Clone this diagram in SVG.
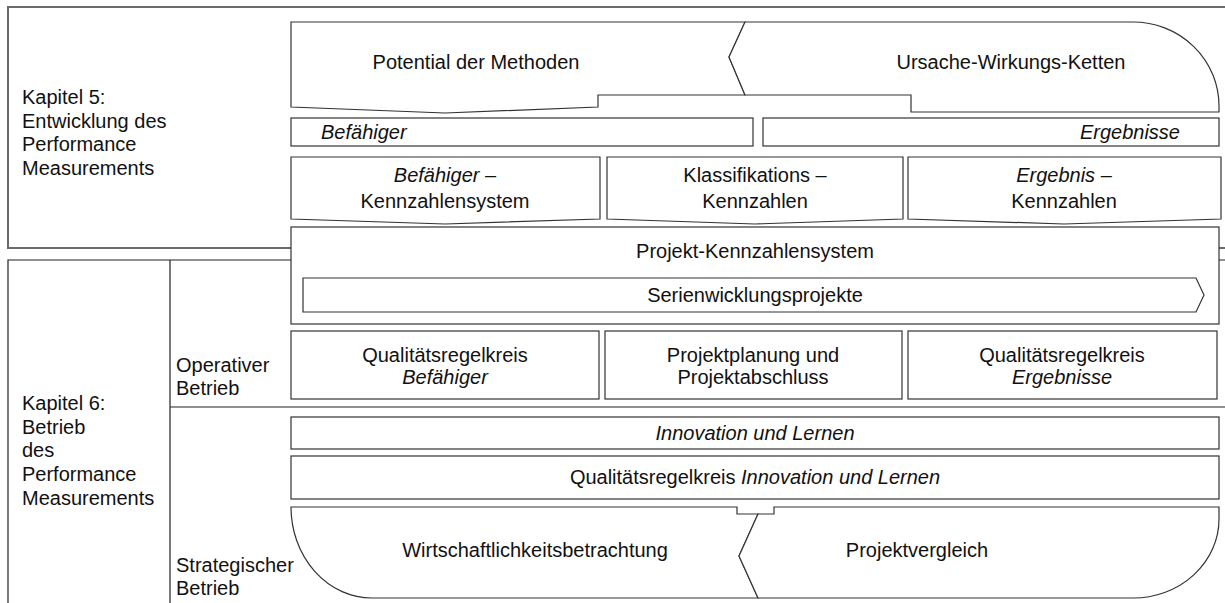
<svg xmlns="http://www.w3.org/2000/svg" width="1225" height="603" viewBox="0 0 1225 603">
  <style>
    text { font-family: "Liberation Sans", Arial, Helvetica, sans-serif; font-size: 20px; fill: #111; }
    .c { text-anchor: middle; }
    .i { font-style: italic; }
    .frame { fill: none; stroke: #6a6a6a; stroke-width: 2; }
    .line { fill: none; stroke: #222; stroke-width: 1.2; }
    .box { fill: #fff; stroke: #333; stroke-width: 1.2; }
  </style>

  <!-- chapter frames -->
  <g id="kapitel5">
    <rect class="frame" x="8" y="7" width="1230" height="241"/>
    <text x="22" y="104">Kapitel 5:</text>
    <text x="22" y="128">Entwicklung des</text>
    <text x="22" y="151">Performance</text>
    <text x="22" y="175">Measurements</text>
  </g>
  <g id="kapitel6">
    <path class="line" d="M1230,260 L8,260 L8,610"/>
    <line class="line" x1="170" y1="260" x2="170" y2="610"/>
    <line class="line" x1="170" y1="407" x2="1230" y2="407"/>
    <text x="22" y="410">Kapitel 6:</text>
    <text x="22" y="434">Betrieb</text>
    <text x="22" y="457">des</text>
    <text x="22" y="481">Performance</text>
    <text x="22" y="505">Measurements</text>
  </g>
  <g id="operativer-betrieb">
    <text x="176" y="372">Operativer</text>
    <text x="176" y="395">Betrieb</text>
  </g>
  <g id="strategischer-betrieb">
    <text x="176" y="572">Strategischer</text>
    <text x="176" y="595">Betrieb</text>
  </g>

  <!-- Kapitel 5 content -->
  <g id="potential">
    <path class="box" d="M291,22 L745,22 L729,57 L745,95 L598,95 L598,107 L445,113 L291,107 Z"/>
    <text class="c" x="476" y="69">Potential der Methoden</text>
  </g>
  <g id="ursache">
    <path class="box" d="M745,22 L1133,22 A86,84 0 0 1 1219,106 L1219,112 L911,112 L911,95 L745,95 L729,57 Z"/>
    <text class="c" x="1011" y="69">Ursache-Wirkungs-Ketten</text>
  </g>
  <g id="befaehiger-bar">
    <rect class="box" x="291" y="118" width="462" height="28"/>
    <text class="i" x="321" y="139">Befähiger</text>
  </g>
  <g id="ergebnisse-bar">
    <rect class="box" x="763" y="118" width="456" height="28"/>
    <text class="i" x="1180" y="139" text-anchor="end">Ergebnisse</text>
  </g>
  <g id="befaehiger-kennzahlensystem">
    <path class="box" d="M291,157 L600,157 L600,219 L445,224 L291,219 Z"/>
    <text class="c" x="445" y="182"><tspan class="i">Befähiger</tspan> –</text>
    <text class="c" x="445" y="208">Kennzahlensystem</text>
  </g>
  <g id="klassifikations-kennzahlen">
    <path class="box" d="M607,157 L903,157 L903,219 L755,224 L607,219 Z"/>
    <text class="c" x="755" y="182">Klassifikations –</text>
    <text class="c" x="755" y="208">Kennzahlen</text>
  </g>
  <g id="ergebnis-kennzahlen">
    <path class="box" d="M908,157 L1221,157 L1221,219 L1064,224 L908,219 Z"/>
    <text class="c" x="1064" y="182"><tspan class="i">Ergebnis</tspan> –</text>
    <text class="c" x="1064" y="208">Kennzahlen</text>
  </g>

  <!-- Projekt-Kennzahlensystem across both chapters -->
  <g id="projekt-kennzahlensystem">
    <rect class="box" x="291" y="227" width="928" height="97"/>
    <text class="c" x="755" y="258">Projekt-Kennzahlensystem</text>
  </g>
  <g id="serienwicklungsprojekte">
    <path class="box" d="M303,278 L1196,278 L1204,295 L1196,312 L303,312 Z"/>
    <text class="c" x="755" y="302">Serienwicklungsprojekte</text>
  </g>

  <!-- operativer Betrieb -->
  <g id="qrk-befaehiger">
    <rect class="box" x="291" y="331" width="308" height="68"/>
    <text class="c" x="445" y="362">Qualitätsregelkreis</text>
    <text class="c i" x="445" y="384">Befähiger</text>
  </g>
  <g id="projektplanung">
    <rect class="box" x="605" y="331" width="297" height="68"/>
    <text class="c" x="753" y="362">Projektplanung und</text>
    <text class="c" x="753" y="384">Projektabschluss</text>
  </g>
  <g id="qrk-ergebnisse">
    <rect class="box" x="908" y="331" width="309" height="68"/>
    <text class="c" x="1062" y="362">Qualitätsregelkreis</text>
    <text class="c i" x="1062" y="384">Ergebnisse</text>
  </g>

  <!-- strategischer Betrieb -->
  <g id="innovation">
    <rect class="box" x="291" y="417" width="928" height="32"/>
    <text class="c i" x="755" y="440">Innovation und Lernen</text>
  </g>
  <g id="qrk-innovation">
    <rect class="box" x="291" y="456" width="928" height="43"/>
    <text class="c" x="755" y="484">Qualitätsregelkreis  <tspan class="i">Innovation und Lernen</tspan></text>
  </g>
  <g id="wirtschaftlichkeit">
    <path class="box" d="M291,507 L737,507 L737,514 L758,514 L739,556 L758,598 L372,598 A81,91 0 0 1 291,507 Z"/>
    <text class="c" x="535" y="557">Wirtschaftlichkeitsbetrachtung</text>
  </g>
  <g id="projektvergleich">
    <path class="box" d="M758,514 L774,514 L774,507 L1219,507 L1219,519 A86,79 0 0 1 1133,598 L758,598 L739,556 Z"/>
    <text class="c" x="917" y="557">Projektvergleich</text>
  </g>
</svg>
